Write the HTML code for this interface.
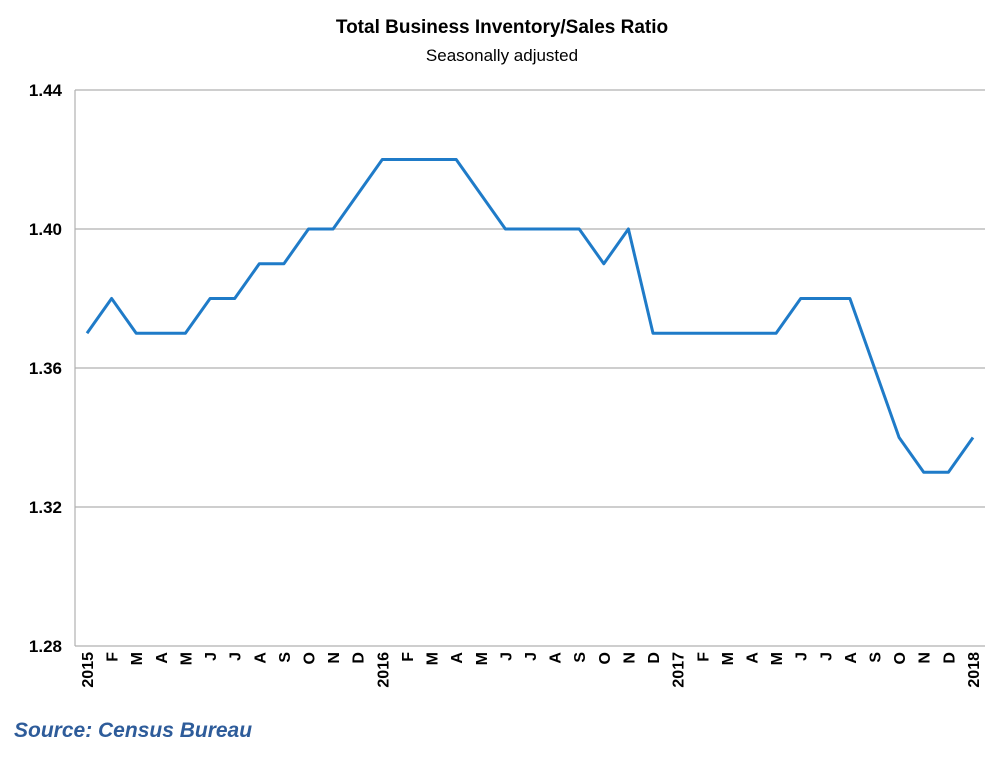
<!DOCTYPE html>
<html><head><meta charset="utf-8"><style>body{margin:0;background:#fff}svg{display:block}</style></head>
<body>
<svg width="1000" height="759" xmlns="http://www.w3.org/2000/svg" font-family="Liberation Sans, sans-serif">
<rect width="1000" height="759" fill="#fff"/>
<text x="502" y="33" text-anchor="middle" font-size="19" font-weight="bold" fill="#000">Total Business Inventory/Sales Ratio</text>
<text x="502" y="61" text-anchor="middle" font-size="17" fill="#000">Seasonally adjusted</text>
<g stroke="#b0b0b0" stroke-width="1.2">
<line x1="75" y1="90" x2="985" y2="90"/>
<line x1="75" y1="229" x2="985" y2="229"/>
<line x1="75" y1="368" x2="985" y2="368"/>
<line x1="75" y1="507" x2="985" y2="507"/>
<line x1="75" y1="646" x2="985" y2="646"/>
<line x1="75" y1="90" x2="75" y2="646"/>
</g>
<g font-size="17" font-weight="bold" text-anchor="end" fill="#000">
<text x="62" y="96">1.44</text><text x="62" y="235">1.40</text><text x="62" y="374">1.36</text><text x="62" y="513">1.32</text><text x="62" y="652">1.28</text>
</g>
<polyline fill="none" stroke="#1f7bc8" stroke-width="3" stroke-linejoin="round" points="87,333.25 111.6,298.5 136.2,333.25 160.8,333.25 185.4,333.25 210.1,298.5 234.7,298.5 259.3,263.75 283.9,263.75 308.5,229 333.1,229 357.7,194.25 382.3,159.5 406.9,159.5 431.5,159.5 456.2,159.5 480.8,194.25 505.4,229 530,229 554.6,229 579.2,229 603.8,263.75 628.4,229 653,333.25 677.6,333.25 702.3,333.25 726.9,333.25 751.5,333.25 776.1,333.25 800.7,298.5 825.3,298.5 849.9,298.5 874.5,368 899.1,437.5 923.7,472.25 948.4,472.25 973,437.5"/>
<g font-size="16" font-weight="bold" fill="#000" text-anchor="end">
<text transform="translate(93,652) rotate(-90)">2015</text>
<text transform="translate(117.6,652) rotate(-90)">F</text>
<text transform="translate(142.2,652) rotate(-90)">M</text>
<text transform="translate(166.8,652) rotate(-90)">A</text>
<text transform="translate(191.4,652) rotate(-90)">M</text>
<text transform="translate(216.1,652) rotate(-90)">J</text>
<text transform="translate(240.7,652) rotate(-90)">J</text>
<text transform="translate(265.3,652) rotate(-90)">A</text>
<text transform="translate(289.9,652) rotate(-90)">S</text>
<text transform="translate(314.5,652) rotate(-90)">O</text>
<text transform="translate(339.1,652) rotate(-90)">N</text>
<text transform="translate(363.7,652) rotate(-90)">D</text>
<text transform="translate(388.3,652) rotate(-90)">2016</text>
<text transform="translate(412.9,652) rotate(-90)">F</text>
<text transform="translate(437.5,652) rotate(-90)">M</text>
<text transform="translate(462.2,652) rotate(-90)">A</text>
<text transform="translate(486.8,652) rotate(-90)">M</text>
<text transform="translate(511.4,652) rotate(-90)">J</text>
<text transform="translate(536,652) rotate(-90)">J</text>
<text transform="translate(560.6,652) rotate(-90)">A</text>
<text transform="translate(585.2,652) rotate(-90)">S</text>
<text transform="translate(609.8,652) rotate(-90)">O</text>
<text transform="translate(634.4,652) rotate(-90)">N</text>
<text transform="translate(659,652) rotate(-90)">D</text>
<text transform="translate(683.6,652) rotate(-90)">2017</text>
<text transform="translate(708.3,652) rotate(-90)">F</text>
<text transform="translate(732.9,652) rotate(-90)">M</text>
<text transform="translate(757.5,652) rotate(-90)">A</text>
<text transform="translate(782.1,652) rotate(-90)">M</text>
<text transform="translate(806.7,652) rotate(-90)">J</text>
<text transform="translate(831.3,652) rotate(-90)">J</text>
<text transform="translate(855.9,652) rotate(-90)">A</text>
<text transform="translate(880.5,652) rotate(-90)">S</text>
<text transform="translate(905.1,652) rotate(-90)">O</text>
<text transform="translate(929.7,652) rotate(-90)">N</text>
<text transform="translate(954.4,652) rotate(-90)">D</text>
<text transform="translate(979,652) rotate(-90)">2018</text>
</g>
<text x="14" y="737" font-size="21" font-weight="bold" font-style="italic" fill="#2e5c9a">Source: Census Bureau</text>
</svg>
</body></html>
